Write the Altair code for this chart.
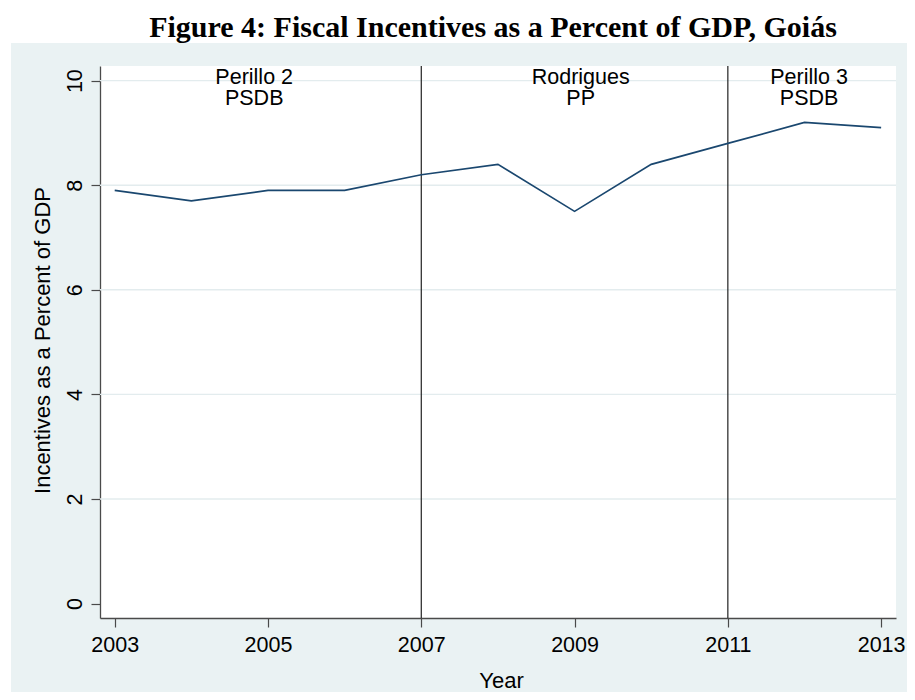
import altair as alt
import pandas as pd

# ---- data ----
years = [2003, 2004, 2005, 2006, 2007, 2008, 2009, 2010, 2011, 2012, 2013]
incentives_pct_gdp = [7.9, 7.7, 7.9, 7.9, 8.2, 8.4, 7.5, 8.4, 8.8, 9.2, 9.1]
term_breaks = [2007, 2011]
term_label_x = [2004.82, 2009.08, 2012.06]
term_label_y = [9.94, 9.94, 9.94]
governors = ["Perillo 2", "Rodrigues", "Perillo 3"]
parties = ["PSDB", "PP", "PSDB"]
x_ticks = [2003, 2005, 2007, 2009, 2011, 2013]
y_ticks = [0, 2, 4, 6, 8, 10]
grid_values = [2, 4, 6, 8, 10]

TITLE = "Figure 4: Fiscal Incentives as a Percent of GDP, Goiás"
X_TITLE = "Year"
Y_TITLE = "Incentives as a Percent of GDP"

# ---- styling ----
W, H = 796, 552
PAD = {"left": 92, "top": 58, "right": 11, "bottom": 74}
PANEL = "#EAF2F3"
GRID = "#E3ECEE"
LINE = "#1A476F"
AXIS = "#4a4a4a"
SANS = "Liberation Sans"
SERIF = "Liberation Serif"

x_scale = alt.Scale(domain=[2002.808, 2013.194], nice=False, zero=False)
y_scale = alt.Scale(domain=[-0.276, 10.28], nice=False, zero=False)

x_axis = alt.Axis(
    values=x_ticks, format="d", title=X_TITLE, grid=False,
    domainColor=AXIS, domainWidth=1.3, tickColor=AXIS, tickWidth=1.2, tickSize=9,
    labelFont=SANS, labelFontSize=21.5, labelColor="black", labelPadding=24,
    labelBaseline="alphabetic", labelFlush=False, labelOverlap=False,
    titleFont=SANS, titleFontSize=22, titleFontWeight="normal", titleColor="black",
    titleX=W / 2 + 3, titleY=69, titleBaseline="alphabetic", titleAlign="center",
)
y_axis = alt.Axis(
    values=y_ticks, format="d", title=Y_TITLE, grid=False,
    domainColor=AXIS, domainWidth=1.3, tickColor=AXIS, tickWidth=1.2, tickSize=9,
    labelFont=SANS, labelFontSize=21.5, labelColor="black", labelPadding=5,
    labelAngle=270, labelAlign="center", labelBaseline="bottom",
    labelFlush=False, labelOverlap=False,
    titleFont=SANS, titleFontSize=22, titleFontWeight="normal", titleColor="black",
    titleAngle=270, titleX=-58, titleY=274, titleBaseline="middle", titleAlign="center",
)

line_df = pd.DataFrame({"year": years, "value": incentives_pct_gdp})
breaks_df = pd.DataFrame({"year": term_breaks})
grid_df = pd.DataFrame({"value": grid_values})
labels_df = pd.DataFrame({
    "year": term_label_x,
    "value": term_label_y,
    "label": [g + "\n" + p for g, p in zip(governors, parties)],
})
one = pd.DataFrame({"k": [0]})

X = alt.X("year:Q", scale=x_scale, axis=x_axis)
Y = alt.Y("value:Q", scale=y_scale, axis=y_axis)

line = alt.Chart(line_df).mark_line(color=LINE, strokeWidth=1.7).encode(x=X, y=Y)

grid = alt.Chart(grid_df).mark_rule(color=GRID, strokeWidth=1.4).encode(y=Y)

breaks = alt.Chart(breaks_df).mark_rule(color="#222222", strokeWidth=1.2).encode(x=X)

labels = alt.Chart(labels_df).mark_text(
    font=SANS, fontSize=21.5, color="black", align="center",
    baseline="alphabetic", lineBreak="\n", lineHeight=21.7,
).encode(x=X, y=Y, text="label:N")

# white margins around the light panel (title strip on top, thin strip on the left)
title_strip = alt.Chart(one).mark_rect(color="white").encode(
    x=alt.value(-PAD["left"]), x2=alt.value(W + PAD["right"]),
    y=alt.value(-PAD["top"]), y2=alt.value(-23),
)
left_strip = alt.Chart(one).mark_rect(color="white").encode(
    x=alt.value(-PAD["left"]), x2=alt.value(-PAD["left"] + 3),
    y=alt.value(-PAD["top"]), y2=alt.value(H + PAD["bottom"]),
)

chart = alt.layer(grid, breaks, line, labels, title_strip, left_strip).properties(
    width=W,
    height=H,
    autosize=alt.AutoSizeParams(type="none"),
    padding=PAD,
    background=PANEL,
    title=alt.TitleParams(
        text=TITLE, font=SERIF, fontSize=30, fontWeight="bold", color="black",
        anchor="middle", frame="group", dx=-5, offset=-35,
    ),
).configure_view(stroke=None, fill="white")

chart.save("out.html", embed_options={"renderer": "svg", "actions": False})
